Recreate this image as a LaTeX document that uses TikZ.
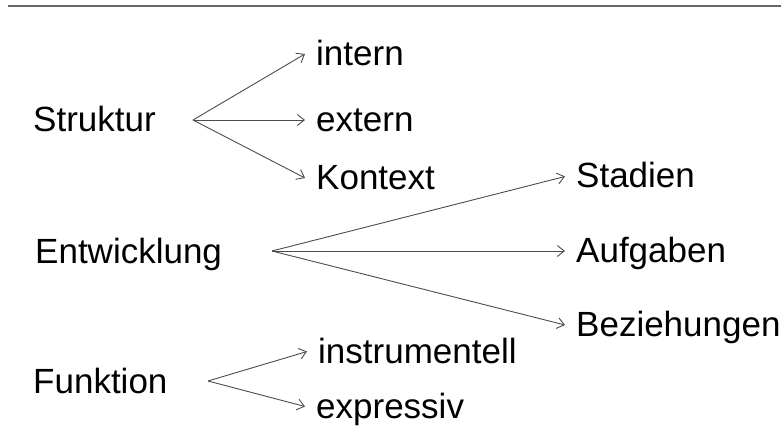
\documentclass[tikz,border=0pt]{standalone}
\usepackage{fontspec}
\setmainfont{Liberation Sans}
\usetikzlibrary{arrows.meta}

\tikzset{
  root/.style={anchor=west,inner sep=0pt,text height=23pt,text depth=0pt},
  leaf/.style={anchor=west,inner xsep=11pt,inner ysep=0pt,text height=23pt,text depth=0pt},
  branch/.style={draw=black!70,line width=.9pt,-{Straight Barb[length=7pt,width=11pt]}}
}

\begin{document}
\begin{tikzpicture}[x=1pt,y=-1pt,font=\fontsize{35pt}{42pt}\selectfont]
  \useasboundingbox (0,0) rectangle (781,430);
  \draw[black!60,line width=2pt] (8,6) -- (781,6);
   \coordinate (Sfork) at (193,120);
   \coordinate (Efork) at (272,251);
   \coordinate (Ffork) at (208,381);
  % left column
  \node[root] (Struktur) at (33,120.5) {Struktur};
  \node[root] (Entwicklung) at (35,251.5) {Entwicklung};
  \node[root] (Funktion) at (33,381.5) {Funktion};
  % Struktur
  \node[leaf] (intern) at (305,54) {intern};
  \node[leaf] (extern) at (305,120) {extern};
  \node[leaf] (Kontext) at (305,178) {Kontext};
  % Entwicklung
  \node[leaf] (Stadien) at (565,176.5) {Stadien};
  \node[leaf] (Aufgaben) at (565,251) {Aufgaben};
  \node[leaf] (Beziehungen) at (565,325) {Beziehungen};
  % Funktion
  \node[leaf] (instrumentell) at (307,351.5) {instrumentell};
  \node[leaf] (expressiv) at (305,406.5) {expressiv};
  \foreach \t in {intern,extern,Kontext}{% fan out of each fork
    \draw[branch] (Sfork) -- (\t.west);
  }
  \foreach \t in {Stadien,Aufgaben,Beziehungen}{%
    \draw[branch] (Efork) -- (\t.west);
  }
  \foreach \t in {instrumentell,expressiv}{%
    \draw[branch] (Ffork) -- (\t.west);
  }
\end{tikzpicture}
\end{document}
